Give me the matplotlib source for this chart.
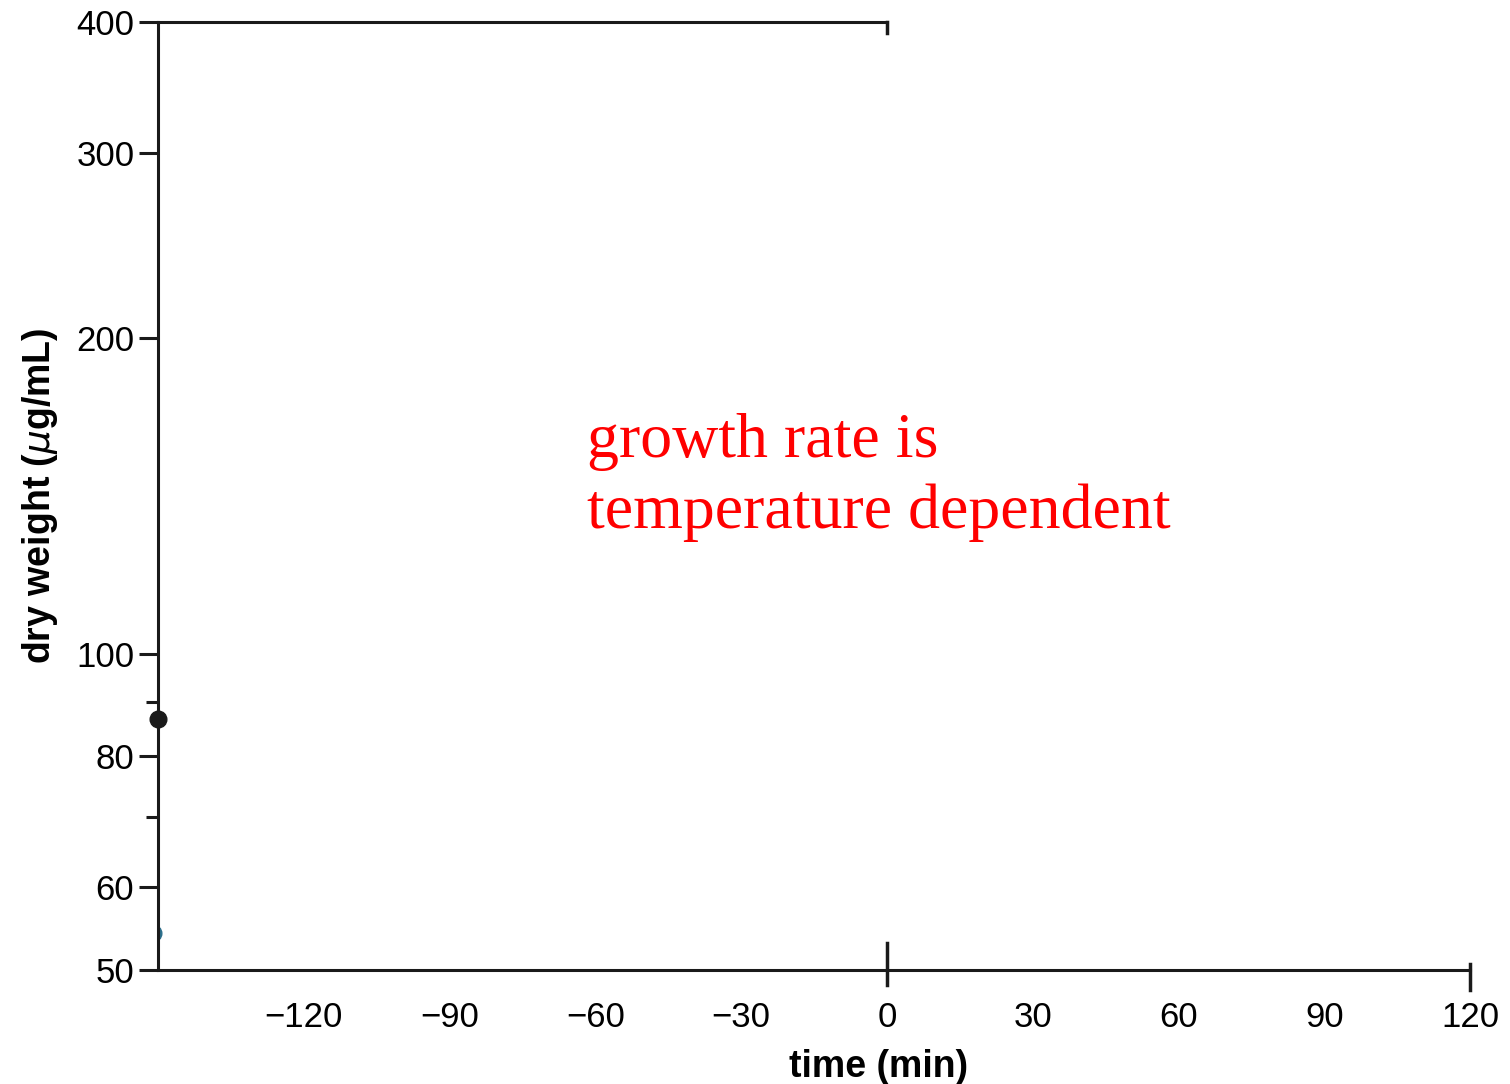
import matplotlib
matplotlib.use("Agg")
import matplotlib.pyplot as plt
from matplotlib.ticker import FixedLocator, NullFormatter

# ── Data ──────────────────────────────────────────────────────────
x_ticks      = [-120, -90, -60, -30, 0, 30, 60, 90, 120]
y_major      = [50, 60, 80, 100, 200, 300, 400]
y_minor      = [70, 90]
black_t      = [-150]
black_w      = [86.7]
teal_t       = [-151]
teal_w       = [54.2]
note_text    = "growth rate is\ntemperature dependent"

# ── Style ─────────────────────────────────────────────────────────
plt.rcParams.update({
    "font.family": ["Liberation Sans", "DejaVu Sans"],
    "axes.linewidth": 2.2,
})
INK  = "#1a1a1a"
TEAL = "#2c6f8c"

fig = plt.figure(figsize=(15.1, 10.84), dpi=100)
ax = fig.add_axes([0.1046, 0.1052, 0.8689, 0.8745])

ax.set_yscale("log")
ax.set_xlim(-150, 120)
ax.set_ylim(50, 400)

ax.spines["right"].set_visible(False)
ax.spines["top"].set_bounds(-150, 0)
for s in ("left", "bottom", "top"):
    ax.spines[s].set_color(INK)

ax.yaxis.set_major_locator(FixedLocator(y_major))
ax.yaxis.set_minor_locator(FixedLocator(y_minor))
ax.yaxis.set_minor_formatter(NullFormatter())
ax.set_yticklabels([str(v) for v in y_major])
ax.tick_params(axis="y", which="major", length=14, width=2.2, pad=3,
               labelsize=25, color=INK)
ax.tick_params(axis="y", which="minor", length=9, width=2.2, color=INK)

ax.set_xticks(x_ticks)
ax.tick_params(axis="x", length=0, pad=22, labelsize=25)

# tick marks at zero and at the right end
ax.axvline(0, ymin=-0.016, ymax=0.028, color=INK, lw=2.5, clip_on=False)
ax.axvline(0, ymin=0.988, ymax=1.0, color=INK, lw=2.5, clip_on=False)
ax.axvline(120, ymin=-0.021, ymax=0.006, color=INK, lw=2.5, clip_on=False)

# points
ax.plot(black_t, black_w, "o", color=INK, ms=12, clip_on=False, zorder=5)
ax.plot(teal_t, teal_w, "o", color=TEAL, ms=12, zorder=1)

ax.set_ylabel("dry weight ($\\mu$g/mL)", fontsize=27, fontweight="bold",
              labelpad=12)
ax.set_xlabel("time (min)", fontsize=27, fontweight="bold")
ax.xaxis.set_label_coords(0.549, -0.083)

ax.text(0.327, 0.588, note_text, transform=ax.transAxes, color="red",
        fontsize=46, family="Liberation Serif", va="top", ha="left",
        linespacing=1.3)

fig.savefig("out.png", dpi=100)
